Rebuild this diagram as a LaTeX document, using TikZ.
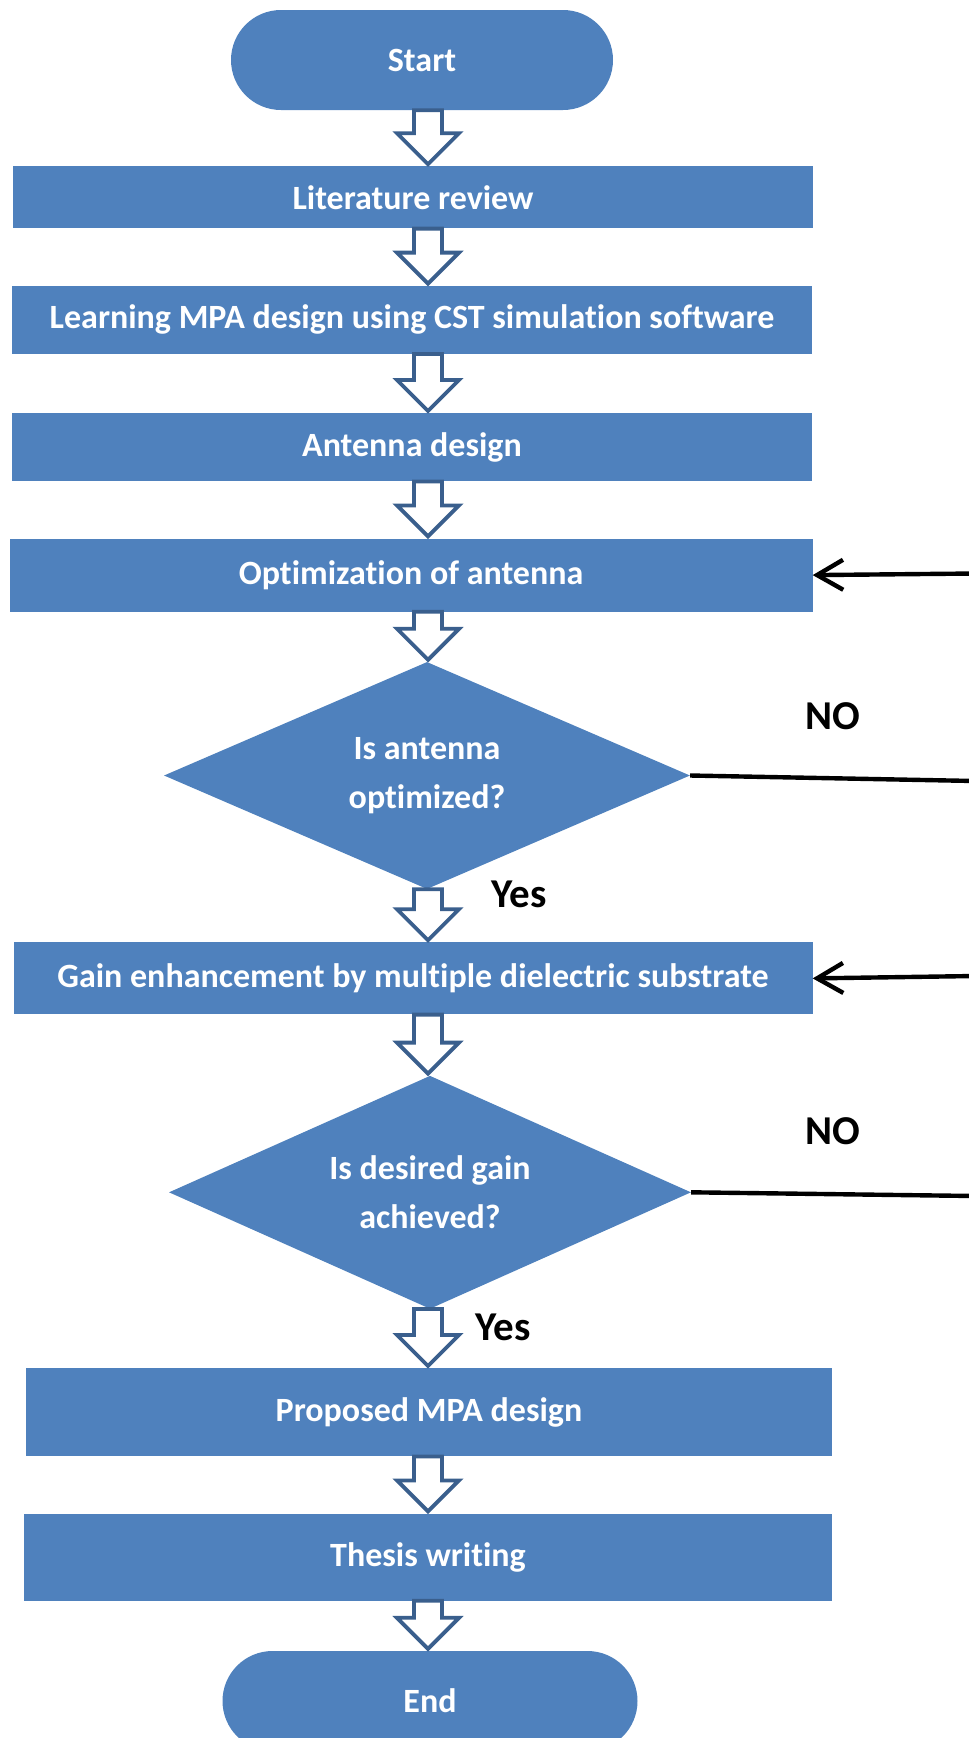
\documentclass[tikz,border=0pt]{standalone}
\usepackage{fontspec}
\setmainfont{Carlito}[Ligatures=NoCommon]
\usetikzlibrary{shapes.geometric,arrows.meta,positioning,calc}
\definecolor{boxblue}{HTML}{4F81BD}
\definecolor{edgeblue}{HTML}{3A5F8D}
\tikzset{
  blk/.style={rectangle,fill=boxblue,inner sep=0pt,align=center,text=white,font=\bfseries\fontsize{34}{49}\selectfont},
  term/.style={blk,rounded corners=50pt,minimum height=100pt},
  dec/.style={diamond,fill=boxblue,inner sep=0pt,aspect=2.3,align=center,text=white,font=\bfseries\fontsize{34}{49}\selectfont},
  lbl/.style={font=\bfseries\fontsize{41}{41}\selectfont},
  arr/.style={-{Straight Barb[length=26pt,width=30pt]},line width=4.4pt},
  ln/.style={line width=4.4pt},
  harrow/.style={draw=edgeblue,fill=white,line width=3.8pt,line join=miter},
}
% hollow block arrow between two nodes, on the column (ax)
\newcommand{\flowarrow}[2]{%
  \draw[harrow] let \p1=(#1.south),\p2=(#2.north),\p3=(ax) in
    (\x3-14,\y1) -- (\x3+14,\y1) -- (\x3+14,\y2+33) -- (\x3+31,\y2+33)
    -- (\x3,\y2+2) -- (\x3-31,\y2+33) -- (\x3-14,\y2+33) -- cycle;}

\begin{document}
\begin{tikzpicture}[x=1pt,y=-1pt]
  \useasboundingbox (0,0) rectangle (969,1738);
  \coordinate (ax) at (428,0);
  % main column
  \node[term,minimum width=382pt] (st) at (422,60) {Start};
  \node[blk,minimum width=800pt,minimum height=62pt,below=56pt of st,xshift=-9pt] (lit) {Literature review};
  \node[blk,minimum width=800pt,minimum height=68pt,below=57pt of lit,xshift=-1pt] (learn) {Learning MPA design using CST simulation software};
  \node[blk,minimum width=800pt,minimum height=68pt,below=59pt of learn] (antd) {Antenna design};
  \node[blk,minimum width=803pt,minimum height=73pt,below=57pt of antd,xshift=-1pt] (opt) {Optimization of antenna};
  \node[dec,minimum width=526pt,minimum height=227pt,below=50pt of opt,xshift=16pt] (dia1) {Is antenna\\optimized?};
  \node[blk,minimum width=799pt,minimum height=72pt,below=53pt of dia1,xshift=-14pt] (gain) {Gain enhancement by multiple dielectric substrate};
  \node[dec,minimum width=522pt,minimum height=233pt,below=61pt of gain,xshift=17pt] (dia2) {Is desired gain\\achieved?};
  \node[blk,minimum width=806pt,minimum height=88pt,below=59pt of dia2,xshift=-1pt] (prop) {Proposed MPA design};
  \node[blk,minimum width=808pt,minimum height=87pt,below=57pt of prop,xshift=-1pt] (thes) {Thesis writing};
  \node[term,minimum width=415pt,below=50pt of thes,xshift=2pt] (end) {End};
  % block arrows
  \flowarrow{st}{lit}
  \flowarrow{lit}{learn}
  \flowarrow{learn}{antd}
  \flowarrow{antd}{opt}
  \flowarrow{opt}{dia1}
  \flowarrow{dia1}{gain}
  \flowarrow{gain}{dia2}
  \flowarrow{dia2}{prop}
  \flowarrow{prop}{thes}
  \flowarrow{thes}{end}
  % feedback lines
  \coordinate (r1) at (975,573.5);
  \coordinate (r2) at (975,781);
  \coordinate (r3) at (975,976);
  \coordinate (r4) at (975,1196);
  \draw[arr] (r1) -- (opt.east);
  \draw[ln] (dia1.east) -- (r2);
  \draw[arr] (r3) -- (gain.east);
  \draw[ln] (dia2.east) -- (r4);
  % labels
  \node[lbl] (no1) at (833,716) {NO};
  \node[lbl] (no2) at (833,1131) {NO};
  \node[lbl] (yes1) at (519,894) {Yes};
  \node[lbl] (yes2) at (503,1327) {Yes};
\end{tikzpicture}
\end{document}
